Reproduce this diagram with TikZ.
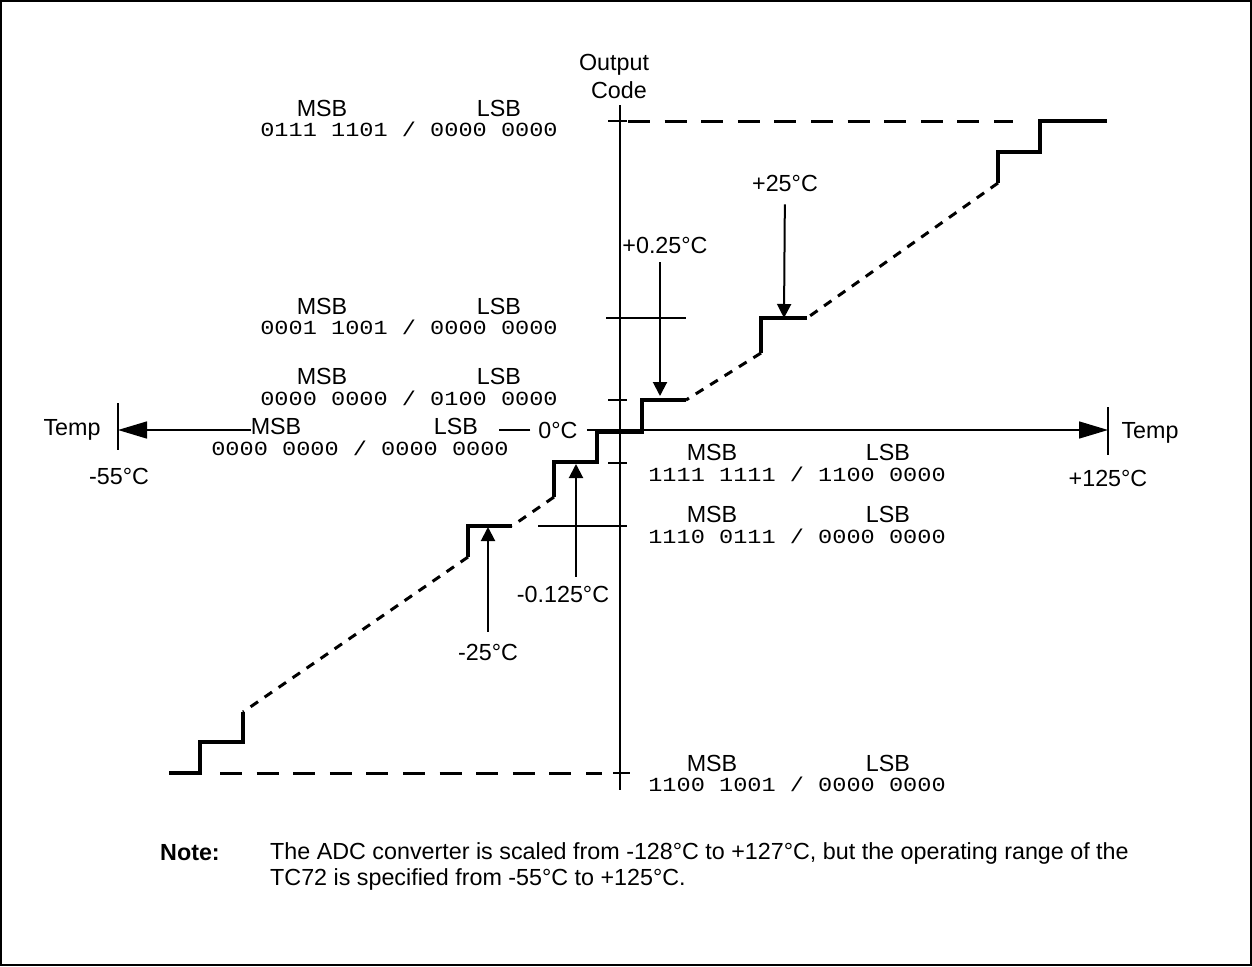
\documentclass[tikz,border=0pt]{standalone}
\usepackage{fontspec}
\setmainfont{Liberation Sans}
\newfontfamily\codefont[FakeStretch=1.18]{Liberation Mono}
\usetikzlibrary{arrows.meta}

\begin{document}
\begin{tikzpicture}[x=1pt,y=-1pt,
    every node/.style={inner sep=0pt,font=\fontsize{23.3}{26}\selectfont},
    code/.style={font=\fontsize{20}{24}\codefont},
    stair/.style={line width=3.5pt},
    slope/.style={line width=3pt,dash pattern=on 9pt off 8pt},
    level/.style={line width=3pt,dash pattern=on 22pt off 14.6pt},
    tick/.style={line width=2.5pt},
    axis/.style={line width=1.5pt},
    ptr/.style={line width=2pt,-{Triangle[length=14pt,width=14pt]}},
    axarr/.style={line width=1.5pt,-{Triangle[length=29pt,width=17pt]}}]
    \useasboundingbox (0,0) rectangle (1252,966);
    \draw [line width=1.5pt] (1,1) rectangle (1251,965);

    \draw [axis] (620,105) -- (620,790);
    \node (out) at (614,65) {Output};
    \node (cde) at (619,90) {Code};

    \node (m1) at (322,108) {MSB};
    \node (l1) at (499,108) {LSB};
    \node [code] (c1) at (409,129) {0111 1101 / 0000 0000};
    \node (m2) at (322,306) {MSB};
    \node (l2) at (499,306) {LSB};
    \node [code] (c2) at (409,327) {0001 1001 / 0000 0000};
    \node (m3) at (322,376) {MSB};
    \node (l3) at (499,376) {LSB};
    \node [code] (c3) at (409,398) {0000 0000 / 0100 0000};
    \node (m4) at (276,426) {MSB};
    \node (l4) at (456,426) {LSB};
    \node [code] (c4) at (360,448) {0000 0000 / 0000 0000};
    \node (m5) at (712,452) {MSB};
    \node (l5) at (888,452) {LSB};
    \node [code] (c5) at (797,474) {1111 1111 / 1100 0000};
    \node (m6) at (712,514) {MSB};
    \node (l6) at (888,514) {LSB};
    \node [code] (c6) at (797,536) {1110 0111 / 0000 0000};
    \node (m7) at (712,763) {MSB};
    \node (l7) at (888,763) {LSB};
    \node [code] (c7) at (797,784) {1100 1001 / 0000 0000};

    \node (zero) at (558,430) {0°C};
    \node (tmpl) at (72,430) {Temp};
    \node (tmpr) at (1150,433) {Temp};
    \node (lo) at (119,476) {-55°C};
    \node (hi) at (1108,478) {+125°C};
    \coordinate (tl) at (118,430);
    \coordinate (tr) at (1108,430);
    \draw [tick] (118,403) -- (118,450);
    \draw [tick] (1108,407) -- (1108,455);
    \draw [axarr] (m4.west |- tl) -- (tl);
    \draw [axis] ([xshift=-8pt]zero.west) -- ++(-31,0);
    \draw [axarr] ([xshift=9pt]zero.east) -- (tr);

    \draw [tick] (608,121) -- (627,121);
    \draw [tick] (608,400) -- (627,400);
    \draw [tick] (608,463) -- (627,463);
    \draw [tick] (538,526) -- (627,526);
    \draw [tick] (606,318) -- (686,318);
    \draw [tick] (613,773) -- (630,773);
    \draw [level] (628,121) -- (1013,121);
    \draw [level] (220,773) -- (602,773);

    \draw [stair] (1107,121) -- (1040,121) -- (1040,152) -- (998,152) -- (998,183);
    \draw [slope] (998,183) -- (807,318);
    \draw [stair] (807,318) -- (761,318) -- (761,353);
    \draw [slope] (761,353) -- (686,400);
    \draw [stair] (686,400) -- (642,400) -- (642,432) -- (597,432) -- (597,462)
        -- (554,462) -- (554,497);
    \draw [slope] (554,497) -- (512,526);
    \draw [stair] (512,526) -- (468,526) -- (468,557);
    \draw [slope] (468,557) -- (243,712);
    \draw [stair] (243,712) -- (243,742) -- (200,742) -- (200,773) -- (169,773);

    \node (p25) at (785,183) {+25°C};
    \node (p025) at (665,245) {+0.25°C};
    \node (n0125) at (563,594) {-0.125°C};
    \node (n25) at (488,652) {-25°C};
    \coordinate (s1) at (784,318);
    \coordinate (s2) at (660,396);
    \coordinate (s3) at (576,464);
    \coordinate (s4) at (488,527);
    \draw [ptr,shorten <=13pt] (p25) -- (s1);
    \draw [ptr,shorten <=9pt] (p025.south -| s2) -- (s2);
    \draw [ptr,shorten <=9pt] (n0125.north -| s3) -- (s3);
    \draw [ptr,shorten <=12pt] (n25) -- (s4);

    \node [anchor=west,font=\fontsize{23.3}{26}\selectfont\bfseries] (note) at (160,853) {Note:};
    \node [anchor=north west,align=left] (body) at (270,842) {The ADC converter is scaled from -128°C to +127°C, but the operating range of the\\TC72 is specified from -55°C to +125°C.};
\end{tikzpicture}
\end{document}
